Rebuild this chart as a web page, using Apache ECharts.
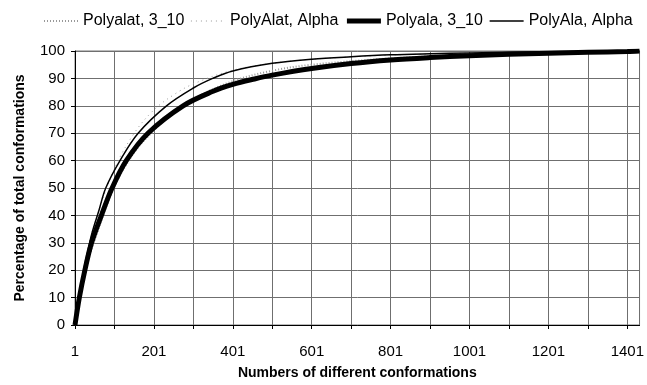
<!DOCTYPE html>
<html>
<head>
<meta charset="utf-8">
<script src="https://cdn.jsdelivr.net/npm/echarts@6/dist/echarts.min.js"></script>
<style>
  html, body { margin: 0; padding: 0; background: #fff; }
  #chart { width: 647px; height: 385px; }
</style>
</head>
<body>
<div id="chart"></div>
<script>
// values: [number of conformations, cumulative %]
let polyalat310 = [[1, 0], [26, 19], [51, 31], [101, 50.5], [151, 63], [201, 71], [251, 77.5], [301, 82.5], [401, 89], [501, 92.8], [601, 95], [801, 97.3], [1001, 98.6], [1201, 99.4], [1432, 100]];
let polyalatAlpha = [[1, 0], [26, 23], [51, 37], [101, 57], [151, 70], [201, 78.5], [251, 84], [301, 88], [401, 93], [501, 95.5], [601, 97], [801, 98.5], [1001, 99.2], [1432, 100]];
let polyala310 = [[1, 0], [12, 10], [26, 20], [43, 30], [68, 40], [95, 50], [131, 60], [186, 70], [275, 80], [351, 85.3], [401, 87.8], [456, 89.8], [501, 91.2], [601, 93.6], [701, 95.4], [801, 96.7], [901, 97.6], [1001, 98.3], [1101, 98.8], [1201, 99.2], [1301, 99.5], [1401, 99.8], [1432, 100]];
let polyalaAlpha = [[1, 0], [12, 11], [26, 22], [43, 33], [62, 42], [79, 50], [115, 60], [161, 70], [233, 80], [301, 86.5], [350, 90], [401, 92.7], [501, 95.5], [601, 97], [701, 97.9], [801, 98.6], [901, 99], [1001, 99.3], [1201, 99.7], [1432, 100]];
let seriesNames = ['Polyalat, 3_10', 'PolyAlat, Alpha', 'Polyala, 3_10', 'PolyAla, Alpha'];
let xMax = 1432;

// x axis runs from 0 so the ticks land on 1, 101, 201 ...
let shift = function (arr) {
    return arr.map(p => [p[0] - 1, p[1]]);
};

let chartDom = document.getElementById('chart');
let myChart = echarts.init(chartDom);
let font = '"Liberation Sans", Arial, sans-serif';

let lineSeries = function (name, data, lineStyle) {
    return {
        name: name,
        type: 'line',
        data: shift(data),
        symbol: 'none',
        smooth: 0.35,
        lineStyle: lineStyle,
        itemStyle: { color: lineStyle.color }
    };
};

let option = {
    animation: false,
    legend: {
        left: 43,
        top: 13,
        padding: 0,
        itemWidth: 34,
        itemHeight: 10,
        itemGap: 6,
        itemStyle: { opacity: 0 },
        lineStyle: { width: 'inherit' },
        textStyle: { fontFamily: font, fontSize: 16, color: '#000' },
        data: seriesNames
    },
    grid: {
        left: 75,
        right: 6,
        top: 51,
        bottom: 60,
        show: true,
        borderColor: '#777',
        borderWidth: 1
    },
    xAxis: {
        type: 'value',
        min: 0,
        max: xMax - 1,
        interval: 100,
        name: 'Numbers of different conformations',
        nameLocation: 'middle',
        nameGap: 41,
        nameTextStyle: { fontFamily: font, fontSize: 14, fontWeight: 'bold', color: '#000' },
        axisLine: { lineStyle: { color: '#000', width: 1 } },
        axisTick: { show: true, length: 4, lineStyle: { color: '#000' } },
        axisLabel: {
            fontFamily: font, fontSize: 15, color: '#000', margin: 19,
            showMaxLabel: false,
            formatter: function (v) {
                return v % 200 === 0 ? String(v + 1) : '';
            }
        },
        splitLine: { show: true, lineStyle: { color: '#6f6f6f', width: 1 } }
    },
    yAxis: {
        type: 'value',
        min: 0,
        max: 100,
        interval: 10,
        name: 'Percentage of total conformations',
        nameLocation: 'middle',
        nameGap: 48,
        nameTextStyle: { fontFamily: font, fontSize: 14, fontWeight: 'bold', color: '#000' },
        axisLine: { show: true, lineStyle: { color: '#000', width: 1 } },
        axisTick: { show: true, length: 4, lineStyle: { color: '#000' } },
        axisLabel: { fontFamily: font, fontSize: 15, color: '#000', margin: 10 },
        splitLine: { show: true, lineStyle: { color: '#6f6f6f', width: 1 } }
    },
    series: [
        lineSeries(seriesNames[0], polyalat310, { color: '#999', width: 2, type: [1, 2] }),
        lineSeries(seriesNames[1], polyalatAlpha, { color: '#999', width: 1, type: [1, 4] }),
        lineSeries(seriesNames[2], polyala310, { color: '#000', width: 5 }),
        lineSeries(seriesNames[3], polyalaAlpha, { color: '#000', width: 1.5 })
    ]
};

myChart.setOption(option);
</script>
</body>
</html>
